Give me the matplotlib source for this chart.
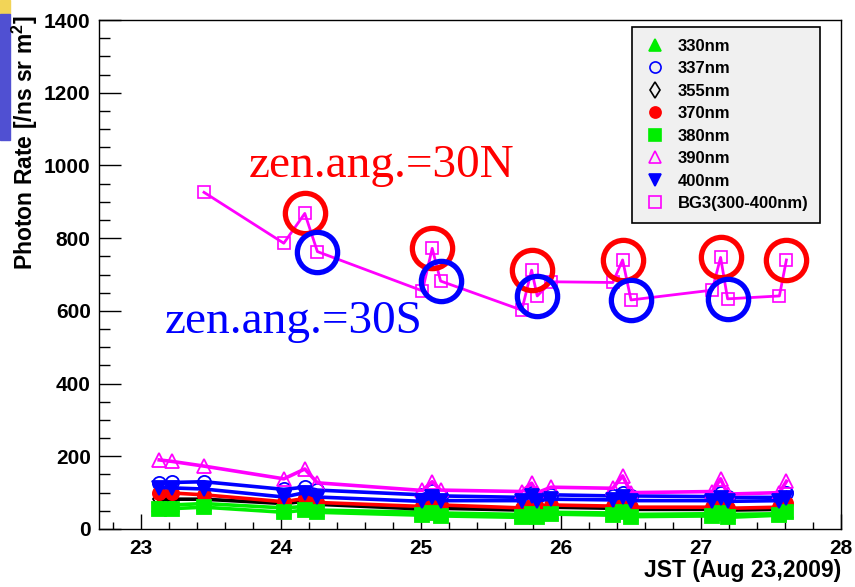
import matplotlib
matplotlib.use("Agg")
import matplotlib.pyplot as plt
from matplotlib.lines import Line2D
from matplotlib.patches import Rectangle

plt.rcParams['font.family'] = ['Liberation Sans', 'DejaVu Sans']
plt.rcParams['font.weight'] = 'bold'
plt.rcParams['mathtext.fontset'] = 'custom'
plt.rcParams['mathtext.bf'] = 'Liberation Sans:bold'
plt.rcParams['mathtext.rm'] = 'Liberation Sans:bold'
plt.rcParams['mathtext.default'] = 'bf'

# JST hour of each measurement
t = [23.13, 23.22, 23.45, 24.02, 24.17, 24.26, 25.01, 25.08, 25.14, 25.72, 25.79,
     25.83, 25.93, 26.37, 26.44, 26.50, 27.08, 27.14, 27.19, 27.56, 27.61]

r330 = [66, 66, 70, 58, 62, 52, 46, 52, 44, 40, 48, 40, 46, 44, 52, 40, 42, 50, 40, 42, 50]
r337 = [127, 128, 130, 109, 115, 107, 94, 105, 91, 87, 100, 87, 94, 91, 100, 91, 89, 100, 87, 87, 100]
r355 = [82, 82, 82, 70, 76, 68, 55, 63, 57, 52, 60, 54, 60, 57, 63, 54, 54, 60, 52, 54, 60]
r370 = [100, 99, 94, 75, 84, 73, 62, 72, 66, 58, 66, 60, 66, 63, 72, 60, 60, 67, 57, 60, 72]
r380 = [56, 56, 60, 46, 52, 46, 38, 45, 36, 32, 40, 33, 41, 38, 48, 34, 36, 45, 32, 38, 47]
r390 = [190, 186, 173, 138, 165, 127, 106, 130, 107, 103, 126, 100, 115, 112, 146, 100, 103, 138, 96, 100, 131]
r400 = [114, 113, 110, 88, 100, 88, 76, 88, 78, 78, 90, 78, 82, 80, 88, 78, 78, 86, 76, 78, 84]

t_bg3 = t[2:]
bg3 = [926, 786, 868, 763, 655, 772, 682, 602, 712, 641, 680, 678, 740, 630, 657, 747, 633, 641, 740]

# measurements at zenith angle 30 deg north / south
t_north = [24.17, 25.08, 25.79, 26.44, 27.14, 27.61]
t_south = [24.26, 25.14, 25.83, 26.50, 27.19]

fig = plt.figure(figsize=(8.55, 5.87), dpi=100)
W, H = 855, 587
ax = fig.add_axes([99 / W, (H - 529) / H, (841 - 99) / W, (529 - 20) / H])

green = '#00ee00'
series = [
    (r330, green, '^', True, '330nm'),
    (r337, '#0000ff', 'o', False, '337nm'),
    (r355, 'black', 'd', False, '355nm'),
    (r370, '#ff0000', 'o', True, '370nm'),
    (r380, green, 's', True, '380nm'),
    (r390, '#ff00ff', '^', False, '390nm'),
    (r400, '#0000ff', 'v', True, '400nm'),
]
handles = []
for vals, col, mk, filled, lab in series:
    fc = col if filled else 'none'
    ax.plot(t, vals, color=col, lw=2.6, marker=mk, ms=9.5, mfc=fc, mec=col, mew=1.3)
    handles.append(Line2D([], [], ls='none', marker=mk, ms=8, mfc=fc, mec=col, mew=1.2, label=lab))

ax.plot(t_bg3, bg3, color='#ff00ff', lw=2, marker='s', ms=9, mfc='none', mec='#ff00ff', mew=1.2)
handles.append(Line2D([], [], ls='none', marker='s', ms=8, mfc='none', mec='#ff00ff', mew=1.2,
                      label='BG3(300-400nm)'))

bg3_at = dict(zip(t_bg3, bg3))
ax.plot(t_north, [bg3_at[x] for x in t_north], ls='none', marker='o', ms=29,
        mfc='none', mec='#ff0000', mew=3.8)
ax.plot(t_south, [bg3_at[x] for x in t_south], ls='none', marker='o', ms=29,
        mfc='none', mec='#0000ff', mew=3.8)

ax.text(23.77, 968, 'zen.ang.=30N', color='#ff0000', fontsize=34, fontweight='normal',
        family='Liberation Serif', va='baseline')
ax.text(23.17, 539, 'zen.ang.=30S', color='#0000ff', fontsize=34, fontweight='normal',
        family='Liberation Serif', va='baseline')

ax.set_xlim(22.7, 28)
ax.set_ylim(0, 1400)
ax.set_xticks([23, 24, 25, 26, 27, 28])
ax.set_xticks([x / 5 for x in range(114, 141)], minor=True)
ax.set_yticks(range(0, 1401, 200))
ax.set_yticks(range(0, 1401, 50), minor=True)
ax.tick_params(axis='x', which='major', direction='in', length=10.8, width=1, labelsize=15, pad=7)
ax.tick_params(axis='x', which='minor', direction='in', length=5, width=1)
ax.tick_params(axis='y', which='major', direction='in', length=16, width=1, labelsize=15, pad=6)
ax.tick_params(axis='y', which='minor', direction='in', length=8, width=1)
for s in ax.spines.values():
    s.set_linewidth(1)

leg = ax.legend(handles=handles, loc='upper left', bbox_to_anchor=(632 / W, 1 - 27 / H),
                bbox_transform=fig.transFigure, borderaxespad=0, fontsize=12,
                handlelength=1.4, handletextpad=0.65, borderpad=0.7, labelspacing=0.45,
                fancybox=False, framealpha=1, facecolor='#f0f0f0', edgecolor='black')
leg.get_frame().set_linewidth(1.2)

fig.text(25 / W, 1 - 15 / H, 'Photon Rate [/ns sr m$^{2}$]', rotation=90, ha='center', va='top',
         fontsize=16.5)
fig.text(841 / W, (H - 570) / H, 'JST (Aug 23,2009)', ha='right', va='center', fontsize=16.5)

# slide edge decoration
fig.patches.append(Rectangle((0, 1 - 14 / H), 10 / W, 14 / H, transform=fig.transFigure,
                             color='#f2d457', zorder=0))
fig.patches.append(Rectangle((0, 1 - 140 / H), 10 / W, 126 / H, transform=fig.transFigure,
                             color='#5050d2', zorder=0))

fig.savefig('out.png', dpi=100)
